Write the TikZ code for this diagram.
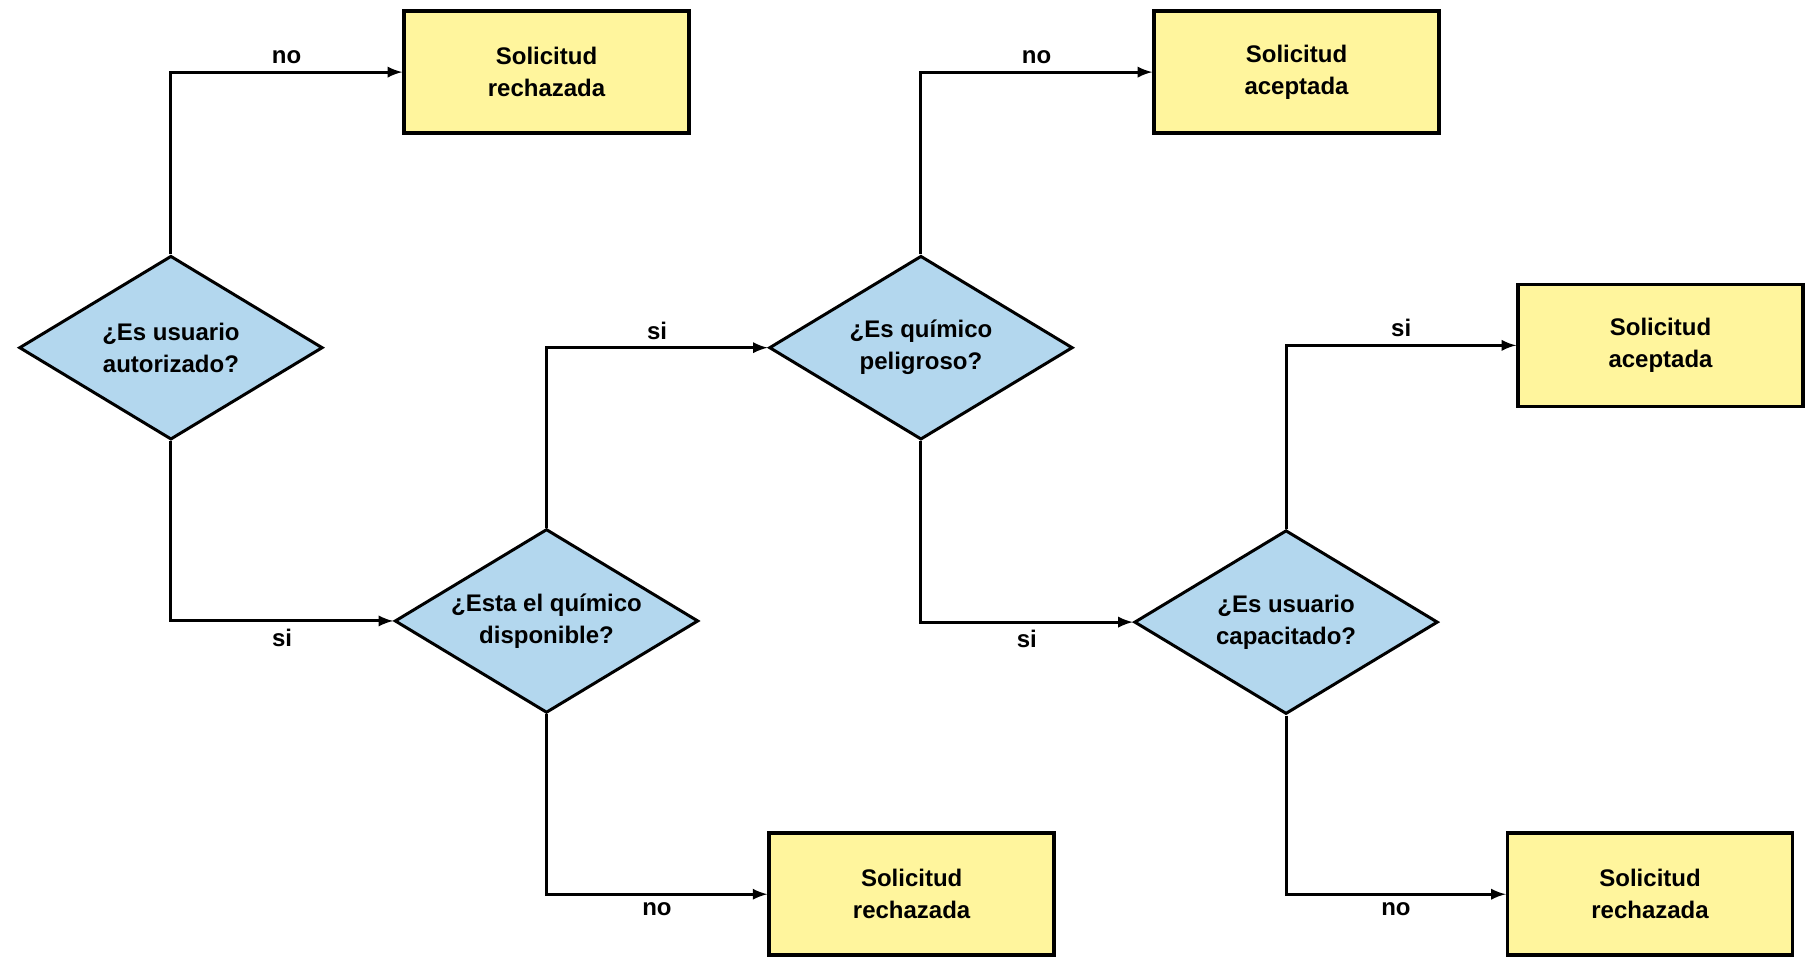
\documentclass[tikz,border=0pt]{standalone}
\usepackage{fontspec}
\setmainfont{Liberation Sans}
\usetikzlibrary{shapes.geometric}
\definecolor{boxcol}{HTML}{FFF59D}
\definecolor{deccol}{HTML}{B3D7EE}
\tikzset{
  result/.style={draw, line width=1.8pt, fill=boxcol, minimum width=142.5pt, minimum height=61pt, align=center, font=\bfseries\fontsize{12}{16}\selectfont},
  decision/.style={draw, line width=1.5pt, fill=deccol, diamond, aspect=1.65, minimum width=151.8pt, minimum height=91.9pt, inner sep=0pt, align=center, font=\bfseries\fontsize{12}{16}\selectfont},
  link/.style={line width=1.5pt, -latex},
  lbl/.style={font=\bfseries\fontsize{12}{14}\selectfont}
}
\begin{document}
\begin{tikzpicture}[x=0.5815pt, y=-0.5815pt]
\useasboundingbox (0,0) rectangle (1560,832);
% decisions
\node[decision] (usr) at (147,299) {¿Es usuario\\autorizado?};
\node[decision] (disp) at (470,534) {¿Esta el químico\\disponible?};
\node[decision] (pel) at (792,299) {¿Es químico\\peligroso?};
\node[decision] (cap) at (1106,535) {¿Es usuario\\capacitado?};
% results
\node[result] (rech1) at (470,62) {Solicitud\\rechazada};
\node[result] (acep1) at (1115,62) {Solicitud\\aceptada};
\node[result] (acep2) at (1428,297) {Solicitud\\aceptada};
\node[result] (rech2) at (784,769) {Solicitud\\rechazada};
\node[result] (rech3) at (1419,769) {Solicitud\\rechazada};
% connectors
\draw[link] (usr.north) |- (rech1.west) node[lbl, pos=0.75, above] {no};
\draw[link] (usr.south) |- (disp.west) node[lbl, pos=0.75, below] {si};
\draw[link] (disp.north) |- (pel.west) node[lbl, pos=0.75, above] {si};
\draw[link] (disp.south) |- (rech2.west) node[lbl, pos=0.75, below] {no};
\draw[link] (pel.north) |- (acep1.west) node[lbl, pos=0.75, above] {no};
\draw[link] (pel.south) |- (cap.west) node[lbl, pos=0.75, below] {si};
\draw[link] (cap.north) |- (acep2.west) node[lbl, pos=0.75, above] {si};
\draw[link] (cap.south) |- (rech3.west) node[lbl, pos=0.75, below] {no};
\end{tikzpicture}
\end{document}
